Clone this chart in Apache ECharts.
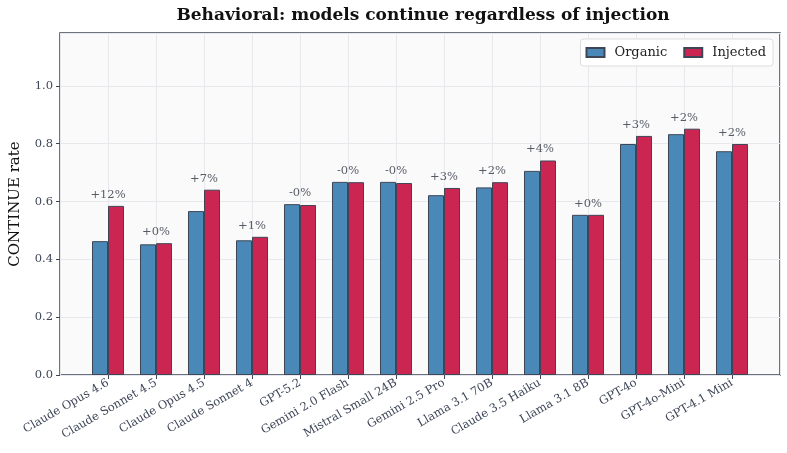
<!DOCTYPE html>
<html>
<head>
<meta charset="utf-8">
<script src="https://cdn.jsdelivr.net/npm/echarts@6/dist/echarts.min.js"></script>
<style>
  html, body { margin: 0; padding: 0; background: #ffffff; }
  #chart { width: 787px; height: 453px; }
</style>
</head>
<body>
<div id="chart"></div>
<script>
const models = [
  'Claude Opus 4.6', 'Claude Sonnet 4.5', 'Claude Opus 4.5', 'Claude Sonnet 4',
  'GPT-5.2', 'Gemini 2.0 Flash', 'Mistral Small 24B', 'Gemini 2.5 Pro',
  'Llama 3.1 70B', 'Claude 3.5 Haiku', 'Llama 3.1 8B', 'GPT-4o',
  'GPT-4o-Mini', 'GPT-4.1 Mini'
];
const organic = [0.463, 0.452, 0.567, 0.466, 0.591, 0.668, 0.668, 0.622, 0.649, 0.706, 0.554, 0.799, 0.833, 0.774];
const injected = [0.585, 0.456, 0.641, 0.478, 0.588, 0.667, 0.664, 0.647, 0.667, 0.742, 0.554, 0.827, 0.852, 0.799];
const deltaLabels = ['+12%', '+0%', '+7%', '+1%', '-0%', '-0%', '-0%', '+3%', '+2%', '+4%', '+0%', '+3%', '+2%', '+2%'];
const yTicks = [0, 0.2, 0.4, 0.6, 0.8, 1.0];

const FONT = 'DejaVu Serif';
const INK = '#3d4556';

// pad one empty slot each side so the axis runs from -1 to 14 like the original
const cats = [''].concat(models, ['']);
const pad = arr => [null].concat(arr, [null]);
const tops = organic.map((v, i) => Math.max(v, injected[i]));

const chart = echarts.init(document.getElementById('chart'));

chart.setOption({
  animation: false,
  backgroundColor: '#ffffff',
  textStyle: { fontFamily: FONT },
  title: {
    text: 'Behavioral: models continue regardless of injection',
    left: 418,
    textAlign: 'center',
    top: 2,
    textStyle: { fontFamily: FONT, fontSize: 17, fontWeight: 'bold', color: '#111111' }
  },
  legend: {
    data: ['Organic', 'Injected'],
    right: 14,
    top: 39,
    icon: 'rect',
    itemWidth: 18,
    itemHeight: 9,
    itemGap: 16,
    padding: [7, 7, 7, 5],
    backgroundColor: '#ffffff',
    borderColor: '#dddddd',
    borderWidth: 1,
    borderRadius: 3,
    textStyle: { fontFamily: FONT, fontSize: 13, color: '#222222', padding: [0, 0, 0, 5] }
  },
  grid: {
    left: 57, right: 7, top: 33, bottom: 78,
    show: true,
    backgroundColor: '#fafafa',
    borderColor: INK,
    borderWidth: 1.5
  },
  xAxis: {
    type: 'category',
    data: cats,
    boundaryGap: false,
    axisLine: { show: false },
    axisTick: {
      show: true, length: 4, inside: false,
      interval: (i, v) => v !== '',
      lineStyle: { color: INK, width: 1 }
    },
    axisLabel: {
      interval: 0, rotate: 30, margin: 7,
      fontFamily: FONT, fontSize: 11.5, color: INK
    },
    splitLine: {
      show: true, interval: 0,
      lineStyle: { color: '#e6e8ec', width: 1 }
    }
  },
  yAxis: {
    type: 'value',
    min: 0,
    max: 1.183,
    interval: 0.2,
    name: 'CONTINUE rate',
    nameLocation: 'middle',
    nameGap: 37,
    nameTextStyle: { fontFamily: FONT, fontSize: 15, color: '#111111' },
    axisLine: { show: false },
    axisTick: { show: true, length: 4, lineStyle: { color: INK } },
    axisLabel: {
      showMaxLabel: false,
      fontFamily: FONT, fontSize: 11.5, color: INK, margin: 7,
      formatter: v => (yTicks.some(t => Math.abs(t - v) < 1e-6) ? v.toFixed(1) : '')
    },
    splitLine: { show: true, lineStyle: { color: '#e6e8ec', width: 1 } }
  },
  series: [
    {
      name: 'Organic',
      type: 'bar',
      data: pad(organic),
      barWidth: 16,
      barGap: '0%',
      itemStyle: { color: '#4a89b7', borderColor: INK, borderWidth: 1 }
    },
    {
      name: 'Injected',
      type: 'bar',
      data: pad(injected),
      barWidth: 16,
      barGap: '0%',
      itemStyle: { color: '#cb2651', borderColor: INK, borderWidth: 1 }
    },
    {
      name: 'delta',
      type: 'scatter',
      data: pad(tops),
      symbolSize: 0,
      silent: true,
      label: {
        show: true,
        position: 'top',
        distance: 5,
        fontFamily: FONT,
        fontSize: 11.5,
        color: '#2d3340',
        formatter: p => deltaLabels[p.dataIndex - 1] || ''
      }
    }
  ]
});
</script>
</body>
</html>
